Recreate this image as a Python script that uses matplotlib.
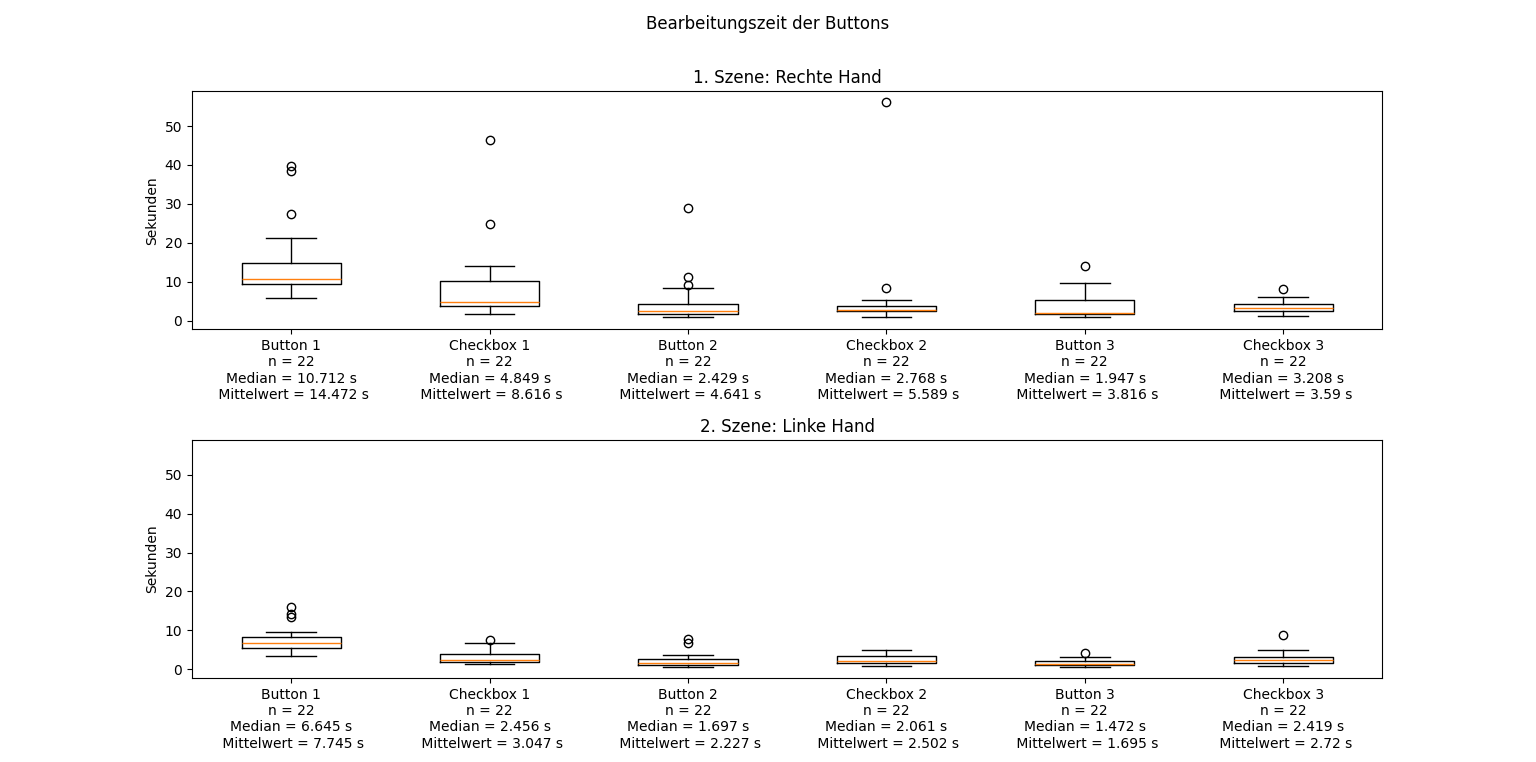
import matplotlib
matplotlib.use("Agg")
import matplotlib.pyplot as plt

categories = ["Button 1", "Checkbox 1", "Button 2", "Checkbox 2", "Button 3", "Checkbox 3"]
n_values = [22, 22, 22, 22, 22, 22]

# Scene 1: right hand
r_median = [10.712, 4.849, 2.429, 2.768, 1.947, 3.208]
r_mean = [14.472, 8.616, 4.641, 5.589, 3.816, 3.59]
r_q1 = [9.4, 3.7, 1.7, 2.56, 1.7, 2.4]
r_q3 = [14.8, 10.2, 4.3, 3.85, 5.3, 4.3]
r_whislo = [5.8, 1.8, 0.86, 0.86, 0.86, 1.1]
r_whishi = [21.2, 14.1, 8.4, 5.3, 9.7, 6.1]
r_fliers = [[39.7, 38.5, 27.4], [46.3, 24.8], [28.9, 11.3, 9.1], [56.1, 8.4], [14.0], [8.1]]

# Scene 2: left hand
l_median = [6.645, 2.456, 1.697, 2.061, 1.472, 2.419]
l_mean = [7.745, 3.047, 2.227, 2.502, 1.695, 2.72]
l_q1 = [5.4, 1.8, 1.0, 1.7, 1.0, 1.6]
l_q3 = [8.2, 3.9, 2.6, 3.4, 2.2, 3.1]
l_whislo = [3.4, 1.3, 0.5, 0.8, 0.5, 0.8]
l_whishi = [9.5, 6.8, 3.6, 4.9, 3.1, 4.9]
l_fliers = [[15.9, 14.2, 13.5], [7.5], [7.7, 6.7], [], [4.2], [8.8]]

titles = ["1. Szene: Rechte Hand", "2. Szene: Linke Hand"]


def make_stats(med, mean, q1, q3, lo, hi, fl):
    stats = []
    for i in range(len(categories)):
        stats.append(dict(med=med[i], mean=mean[i], q1=q1[i], q3=q3[i],
                          whislo=lo[i], whishi=hi[i], fliers=fl[i],
                          label=categories[i]))
    return stats


def make_labels(med, mean):
    return [f"{c}\nn = {n}\nMedian = {m} s\n Mittelwert = {mw} s"
            for c, n, m, mw in zip(categories, n_values, med, mean)]


fig, axes = plt.subplots(2, 1, figsize=(15.36, 7.62), dpi=100, sharey=True)
fig.subplots_adjust(hspace=0.465)
fig.suptitle("Bearbeitungszeit der Buttons")

datasets = [
    (r_median, r_mean, r_q1, r_q3, r_whislo, r_whishi, r_fliers),
    (l_median, l_mean, l_q1, l_q3, l_whislo, l_whishi, l_fliers),
]

for ax, title, d in zip(axes, titles, datasets):
    med, mean, q1, q3, lo, hi, fl = d
    ax.bxp(make_stats(med, mean, q1, q3, lo, hi, fl))
    ax.set_xticks(range(1, len(categories) + 1))
    ax.set_xticklabels(make_labels(med, mean))
    ax.set_title(title)
    ax.set_ylabel("Sekunden")

fig.savefig("out.png", dpi=100)
